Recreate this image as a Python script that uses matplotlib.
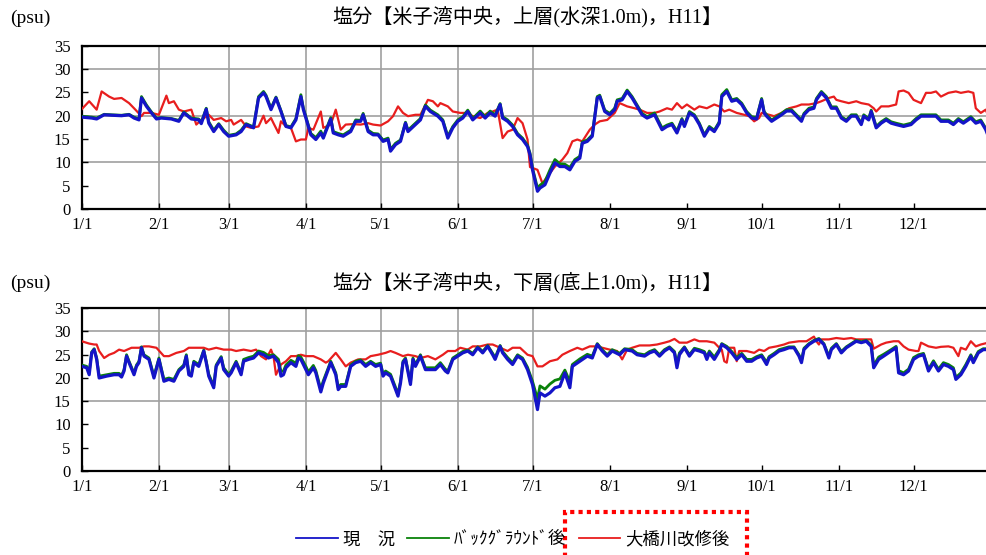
import matplotlib
matplotlib.use('Agg')
import matplotlib.pyplot as plt
from matplotlib.patches import Rectangle
from matplotlib.font_manager import FontProperties

# day-of-year positions of month starts (H11 = 1999, not a leap year)
month_days = [0, 31, 59, 90, 120, 151, 181, 212, 243, 273, 304, 334]
month_labels = ['1/1', '2/1', '3/1', '4/1', '5/1', '6/1',
                '7/1', '8/1', '9/1', '10/1', '11/1', '12/1']
vgrid_days = [31, 59, 90, 120, 151, 181]

titles = ['塩分【米子湾中央，上層(水深1.0m)，H11】',
          '塩分【米子湾中央，下層(底上1.0m)，H11】']
legend_labels = ['現　況', 'ﾊﾞｯｸｸﾞﾗｳﾝﾄﾞ後', '大橋川改修後']

# ---- upper layer ----
top_bg_day = [0, 4, 6, 9, 12, 16, 19, 21, 23, 24, 26, 28, 30, 32, 36, 39, 41, 44, 47, 48,
              50, 51, 53, 55, 57, 59, 62, 64, 66, 69, 71, 73, 74, 76, 78, 80, 82, 84, 86, 88,
              89, 90, 92, 94, 96, 97, 98, 100, 101, 103, 105, 108, 110, 112, 113, 115, 117, 119, 121, 123,
              124, 126, 128, 130, 131, 134, 136, 138, 140, 143, 145, 147, 149, 151, 153, 155, 157, 160, 162, 164,
              166, 168, 169, 171, 173, 175, 177, 179, 180, 181, 183, 184, 186, 188, 190, 192, 194, 196, 198, 200,
              201, 203, 205, 207, 208, 210, 212, 214, 215, 217, 219, 221, 223, 225, 227, 230, 232, 233, 235, 237,
              239, 241, 242, 244, 246, 248, 250, 252, 254, 256, 257, 259, 261, 263, 265, 267, 269, 271, 273, 274,
              275, 277, 279, 281, 283, 285, 287, 289, 290, 292, 294, 295, 297, 299, 301, 303, 305, 307, 309, 311,
              313, 314, 316, 317, 319, 321, 323, 325, 327, 330, 333, 335, 337, 340, 343, 345, 348, 350, 352, 354,
              357, 359, 361, 363, 364]
top_now = [19.7, 19.5, 19.3, 20.2, 20.1, 20.0, 20.2, 19.5, 19.1, 23.8, 22.0, 20.6, 19.3, 19.5, 19.3, 18.8, 20.6, 19.3, 19.1, 18.3,
           21.4, 18.4, 16.6, 18.1, 16.6, 15.6, 15.9, 16.6, 18.1, 17.4, 23.8, 24.9, 24.1, 21.3, 23.8, 20.9, 17.7, 17.4, 19.1, 24.1,
           21.3, 19.5, 15.9, 14.9, 16.3, 15.2, 16.6, 19.3, 16.3, 15.9, 15.6, 16.6, 18.8, 18.8, 20.2, 16.6, 15.9, 15.9, 14.5, 14.9,
           12.4, 13.8, 14.5, 18.4, 16.6, 18.1, 19.1, 22.0, 20.9, 19.9, 18.8, 15.2, 17.4, 18.8, 19.5, 20.9, 19.1, 20.6, 19.5, 20.6,
           19.9, 22.4, 19.5, 18.8, 17.7, 15.9, 14.9, 13.4, 11.6, 8.4, 3.8, 4.5, 5.2, 7.7, 9.9, 9.1, 9.1, 8.4, 10.2, 10.9,
           14.1, 14.5, 15.6, 23.8, 24.1, 20.9, 20.2, 21.3, 23.1, 23.4, 25.2, 23.8, 22.0, 20.2, 19.5, 20.2, 18.1, 17.0, 17.7, 18.1,
           16.3, 19.1, 17.7, 20.6, 19.9, 18.1, 15.6, 17.4, 16.6, 18.4, 24.1, 25.2, 23.1, 23.4, 22.4, 20.6, 19.5, 19.3, 23.4, 20.6,
           19.9, 18.8, 19.5, 20.2, 21.0, 21.0, 19.9, 18.8, 20.2, 21.3, 21.6, 23.4, 24.9, 23.8, 21.6, 21.6, 19.5, 18.8, 19.9, 19.9,
           18.1, 19.9, 19.1, 20.9, 17.4, 18.4, 19.1, 18.4, 18.1, 17.7, 18.1, 19.1, 19.9, 19.9, 19.9, 18.8, 18.8, 18.1, 19.1, 18.4,
           19.5, 18.4, 18.8, 17.0, 15.6]
top_bg = [19.9, 19.7, 19.5, 20.3, 20.2, 20.1, 20.3, 19.7, 19.3, 24.1, 22.3, 20.8, 19.5, 19.6, 19.4, 19.0, 20.8, 19.5, 19.3, 18.6,
          21.6, 18.7, 16.9, 18.3, 16.9, 15.8, 16.1, 16.9, 18.3, 17.6, 24.1, 25.2, 24.4, 21.6, 24.0, 21.1, 17.9, 17.6, 19.4, 24.5,
          21.6, 19.8, 16.2, 15.3, 16.7, 15.5, 16.9, 19.6, 16.6, 16.2, 15.9, 16.9, 19.1, 19.0, 20.5, 16.9, 16.2, 16.1, 14.8, 15.2,
          12.8, 14.1, 14.8, 18.6, 16.9, 18.4, 19.4, 22.3, 21.2, 20.2, 19.1, 15.6, 17.7, 19.1, 19.8, 21.2, 19.4, 21.0, 19.8, 21.0,
          20.2, 22.6, 19.8, 19.1, 18.0, 16.2, 15.2, 13.7, 12.0, 8.8, 4.5, 5.1, 5.9, 8.4, 10.6, 9.7, 9.6, 8.9, 10.6, 11.3,
          14.4, 14.8, 15.9, 24.1, 24.4, 21.2, 20.5, 21.6, 23.4, 23.7, 25.5, 24.1, 22.3, 20.5, 19.8, 20.6, 18.5, 17.4, 18.0, 18.4,
          16.7, 19.4, 18.0, 20.9, 20.2, 18.4, 15.9, 17.7, 16.9, 18.7, 24.5, 25.6, 23.4, 23.7, 22.7, 20.9, 19.8, 19.6, 23.7, 20.9,
          20.2, 19.1, 19.8, 20.5, 21.3, 21.3, 20.2, 19.1, 20.5, 21.6, 21.9, 23.7, 25.2, 24.1, 21.9, 21.9, 19.8, 19.1, 20.2, 20.2,
          18.4, 20.2, 19.4, 21.2, 17.7, 18.7, 19.4, 18.7, 18.4, 18.0, 18.4, 19.4, 20.2, 20.2, 20.2, 19.1, 19.1, 18.4, 19.4, 18.7,
          19.8, 18.7, 19.1, 17.3, 15.9]
top_now_day = top_bg_day
top_new_day = [0, 3, 6, 8, 11, 13, 16, 19, 21, 24, 25, 28, 31, 34, 35, 37, 39, 41, 44, 46,
               48, 51, 53, 56, 58, 60, 61, 64, 66, 68, 71, 73, 74, 76, 77, 79, 80, 82, 84, 86,
               88, 90, 91, 93, 96, 97, 100, 102, 104, 106, 109, 112, 115, 117, 120, 123, 125, 127, 129, 131,
               134, 136, 139, 141, 143, 144, 147, 149, 152, 155, 157, 160, 163, 165, 167, 169, 171, 173, 175, 177,
               179, 180, 183, 185, 187, 190, 193, 195, 197, 199, 201, 204, 206, 208, 211, 214, 216, 219, 222, 224,
               227, 230, 232, 235, 237, 239, 241, 243, 246, 248, 251, 254, 256, 258, 260, 263, 266, 268, 270, 272,
               273, 276, 278, 281, 284, 287, 289, 292, 295, 297, 300, 302, 303, 305, 308, 311, 313, 316, 318, 319,
               321, 324, 327, 328, 330, 332, 334, 337, 339, 341, 343, 345, 348, 351, 353, 356, 358, 359, 361, 363,
               364]
top_new = [21.4, 23.1, 21.3, 25.2, 24.1, 23.6, 23.8, 22.7, 21.6, 19.9, 20.6, 20.6, 20.2, 24.3, 22.7, 23.1, 21.3, 20.9, 21.3, 18.1,
           19.1, 20.2, 19.1, 19.5, 18.8, 19.1, 18.1, 19.1, 17.7, 17.4, 17.7, 20.0, 18.4, 19.5, 18.4, 16.3, 18.8, 17.7, 17.4, 14.5,
           14.9, 14.9, 17.4, 17.0, 20.9, 17.4, 18.1, 21.3, 17.0, 18.1, 18.2, 18.1, 18.4, 18.1, 17.9, 18.8, 19.9, 22.0, 20.6, 19.9,
           20.2, 20.2, 23.4, 23.1, 22.0, 22.7, 22.0, 20.9, 20.6, 20.6, 19.9, 19.5, 20.6, 20.9, 21.3, 15.2, 16.6, 17.0, 19.5, 18.4,
           14.9, 9.0, 8.4, 5.5, 7.0, 9.1, 10.6, 12.0, 14.5, 14.9, 14.5, 17.0, 18.1, 18.8, 19.1, 20.6, 22.7, 22.0, 21.6, 21.3,
           20.6, 20.6, 20.9, 21.6, 21.3, 22.7, 21.6, 22.4, 21.3, 22.0, 21.6, 22.4, 22.0, 20.9, 21.3, 20.6, 20.2, 19.9, 18.8, 19.5,
           20.6, 20.2, 19.9, 20.6, 21.6, 22.0, 22.4, 22.4, 22.7, 23.1, 23.8, 24.1, 23.4, 23.1, 22.7, 23.1, 22.7, 22.4, 21.6, 20.9,
           22.0, 22.0, 22.4, 25.2, 25.4, 24.9, 23.4, 22.7, 24.9, 24.9, 25.2, 24.1, 24.9, 25.2, 24.9, 25.2, 24.9, 21.6, 20.6, 21.3,
           19.9]

# ---- lower layer ----
bot_now_day = [0, 2, 3, 4, 5, 6, 7, 10, 13, 15, 16, 17, 18, 19, 21, 22, 23, 24, 25, 27,
               29, 31, 33, 35, 37, 39, 41, 42, 43, 44, 45, 47, 49, 50, 51, 53, 54, 56, 57, 59,
               60, 62, 64, 65, 67, 69, 71, 73, 75, 77, 79, 80, 81, 82, 84, 86, 87, 88, 90, 91,
               93, 94, 96, 97, 99, 100, 102, 103, 104, 106, 108, 110, 112, 114, 116, 118, 120, 121, 122, 124,
               126, 127, 128, 129, 130, 132, 133, 134, 136, 138, 140, 142, 144, 146, 147, 149, 151, 153, 155, 157,
               159, 161, 163, 165, 166, 168, 169, 171, 173, 175, 177, 179, 181, 183, 184, 186, 188, 190, 192, 194,
               196, 197, 200, 203, 205, 207, 209, 211, 213, 216, 218, 221, 223, 226, 228, 230, 232, 234, 236, 238,
               239, 240, 242, 244, 246, 248, 250, 251, 252, 254, 256, 257, 259, 261, 263, 265, 267, 269, 271, 273,
               275, 276, 278, 280, 282, 284, 286, 288, 289, 290, 292, 294, 296, 298, 300, 301, 303, 305, 307, 309,
               311, 313, 315, 317, 318, 320, 322, 325, 327, 328, 330, 332, 334, 336, 338, 340, 342, 344, 346, 348,
               350, 351, 353, 355, 357, 358, 360, 362, 364]
bot_now = [22.5, 22.2, 20.7, 25.4, 26.1, 24.0, 20.0, 20.4, 20.7, 20.7, 20.2, 21.5, 24.7, 23.3, 20.7, 22.5, 23.3, 26.5, 24.7, 24.0,
           20.0, 24.0, 19.3, 19.7, 19.3, 21.5, 22.5, 24.7, 20.7, 20.4, 23.3, 22.5, 25.8, 23.3, 20.4, 17.9, 22.5, 24.3, 21.8, 20.4,
           21.1, 23.3, 20.7, 23.6, 24.0, 24.3, 25.4, 25.0, 24.3, 24.7, 23.3, 20.4, 20.7, 22.2, 23.3, 22.5, 24.3, 24.0, 21.8, 20.7,
           22.2, 21.1, 17.0, 18.9, 21.8, 23.3, 20.7, 17.5, 18.2, 18.2, 22.5, 23.3, 23.6, 22.5, 23.3, 22.5, 22.9, 20.4, 21.1, 20.4,
           17.5, 16.1, 18.9, 23.3, 24.0, 18.6, 24.0, 22.5, 24.7, 21.8, 21.8, 21.8, 22.9, 21.5, 21.1, 24.0, 24.7, 25.4, 25.8, 25.0,
           26.5, 25.4, 26.8, 25.0, 24.0, 26.8, 25.4, 24.0, 22.9, 24.7, 24.0, 21.8, 18.6, 13.2, 16.8, 16.1, 16.8, 17.9, 18.2, 21.1,
           17.9, 22.5, 23.6, 24.7, 24.3, 27.2, 25.8, 24.7, 25.8, 25.0, 26.1, 25.8, 25.0, 24.7, 25.4, 25.8, 24.7, 25.8, 26.5, 25.4,
           22.2, 25.0, 26.5, 24.7, 26.1, 25.8, 25.4, 24.0, 25.4, 24.0, 25.8, 27.2, 26.5, 25.4, 24.0, 25.0, 23.6, 23.6, 24.3, 24.7,
           22.9, 24.3, 25.0, 25.8, 26.1, 26.5, 26.5, 24.7, 23.3, 26.1, 27.2, 27.9, 28.3, 27.2, 24.3, 26.1, 27.2, 25.4, 26.5, 27.2,
           27.9, 27.6, 27.9, 26.8, 22.2, 24.0, 24.7, 25.8, 26.5, 21.1, 20.7, 21.5, 24.0, 24.7, 25.0, 21.5, 23.3, 21.5, 22.9, 22.5,
           21.8, 19.7, 20.7, 22.5, 24.7, 23.3, 25.4, 26.1, 26.1]
bot_bg_day = bot_now_day
bot_bg = [22.8, 22.5, 21.2, 25.6, 26.3, 24.3, 20.4, 20.7, 21.0, 21.0, 20.5, 21.8, 25.0, 23.6, 21.0, 22.8, 23.6, 26.7, 25.0, 24.3,
          20.4, 24.3, 19.7, 20.0, 19.7, 21.8, 22.8, 25.0, 21.0, 20.8, 23.6, 22.9, 26.0, 23.6, 20.8, 18.3, 22.8, 24.6, 22.2, 20.8,
          21.5, 23.6, 21.1, 24.0, 24.4, 24.7, 25.8, 25.5, 24.8, 25.0, 24.0, 21.4, 21.5, 22.8, 23.8, 23.2, 24.8, 24.5, 22.5, 21.3,
          22.7, 21.6, 17.6, 19.4, 22.2, 23.6, 21.1, 17.9, 18.6, 18.6, 22.8, 23.6, 23.9, 22.9, 23.6, 22.9, 23.2, 20.8, 21.5, 20.8,
          18.0, 16.6, 19.3, 23.6, 24.3, 19.0, 24.3, 22.9, 25.0, 22.2, 22.2, 22.2, 23.3, 21.9, 21.5, 24.3, 25.0, 25.7, 26.0, 25.3,
          26.7, 25.7, 27.0, 25.3, 24.4, 27.0, 25.7, 24.4, 23.3, 25.0, 24.3, 22.3, 19.3, 15.5, 18.3, 17.6, 18.7, 19.5, 19.8, 21.7,
          19.2, 22.9, 24.1, 25.1, 24.7, 27.4, 26.1, 25.0, 26.1, 25.3, 26.3, 26.1, 25.3, 25.0, 25.7, 26.1, 25.0, 26.1, 26.7, 25.7,
          23.0, 25.4, 26.7, 25.0, 26.4, 26.1, 25.7, 24.5, 25.8, 24.5, 26.1, 27.4, 26.8, 25.7, 24.4, 25.3, 24.0, 24.0, 24.6, 25.0,
          23.4, 24.6, 25.3, 26.1, 26.4, 26.7, 26.7, 25.0, 23.7, 26.4, 27.4, 28.1, 28.5, 27.4, 24.7, 26.4, 27.4, 25.7, 26.7, 27.4,
          28.1, 27.8, 28.1, 27.1, 22.7, 24.5, 25.1, 26.1, 26.8, 21.6, 21.1, 21.9, 24.4, 25.0, 25.3, 21.9, 23.7, 21.9, 23.3, 22.9,
          22.2, 20.1, 21.1, 22.9, 25.0, 23.7, 25.7, 26.3, 26.3]
bot_new_day = [0, 3, 5, 6, 7, 9, 11, 13, 15, 17, 20, 23, 25, 27, 30, 33, 35, 38, 41, 43,
               46, 49, 51, 54, 57, 60, 62, 65, 68, 70, 72, 74, 76, 77, 78, 80, 82, 84, 86, 88,
               90, 93, 96, 98, 99, 102, 104, 106, 108, 111, 114, 116, 119, 122, 124, 126, 129, 131, 134, 136,
               139, 142, 145, 147, 150, 152, 155, 157, 160, 163, 165, 168, 171, 173, 176, 179, 181, 183, 185, 188,
               191, 193, 196, 199, 201, 204, 207, 209, 212, 215, 217, 219, 221, 224, 228, 231, 234, 236, 238, 240,
               243, 246, 248, 251, 254, 256, 257, 258, 259, 260, 262, 263, 264, 267, 270, 272, 274, 276, 279, 282,
               284, 288, 291, 294, 295, 296, 297, 300, 303, 306, 309, 311, 314, 317, 318, 321, 323, 326, 328, 330,
               332, 335, 336, 337, 340, 343, 345, 348, 350, 352, 353, 355, 357, 359, 361, 364]
bot_new = [27.9, 27.4, 27.2, 27.2, 25.8, 24.3, 25.0, 25.4, 26.1, 25.8, 26.5, 26.5, 26.8, 26.8, 26.5, 24.7, 24.7, 25.4, 25.8, 26.5,
           26.5, 26.5, 26.1, 26.5, 26.1, 26.1, 25.8, 26.1, 25.8, 26.1, 24.7, 24.0, 26.1, 24.7, 20.7, 22.9, 23.6, 24.7, 24.7, 25.0,
           24.7, 24.7, 24.0, 23.3, 23.6, 25.4, 24.0, 22.5, 23.3, 24.0, 24.0, 24.7, 25.0, 25.4, 25.8, 25.4, 24.7, 25.0, 24.7, 24.3,
           24.7, 24.0, 25.0, 25.8, 25.8, 26.5, 26.1, 26.8, 26.8, 27.2, 27.2, 26.5, 25.8, 26.5, 26.5, 25.0, 24.7, 22.5, 22.5, 23.6,
           24.0, 25.0, 25.8, 26.5, 26.1, 26.8, 26.8, 26.5, 26.1, 25.8, 24.0, 26.1, 26.5, 27.0, 27.0, 27.2, 27.6, 27.9, 28.4, 27.6,
           27.6, 28.3, 27.9, 27.9, 27.6, 26.5, 26.1, 23.6, 23.3, 26.5, 26.5, 23.6, 25.8, 25.8, 25.4, 26.1, 25.8, 26.5, 26.8, 27.2,
           27.6, 27.9, 27.9, 28.9, 27.9, 27.2, 28.3, 28.3, 28.6, 28.4, 28.6, 28.3, 28.3, 28.3, 26.3, 27.2, 27.6, 27.9, 27.9, 26.8,
           26.1, 25.8, 25.8, 27.6, 26.8, 26.5, 26.7, 26.8, 26.5, 24.7, 26.5, 26.1, 27.9, 26.8, 27.2, 27.6]

top_hgrid = [10, 20, 30]
bot_hgrid = [15, 30]

BLUE = '#1414c8'
GREEN = '#0a820a'
RED = '#e81e1e'
GRID = '#a0a0a0'
SERIF = 'Liberation Serif'
JP = ['Liberation Serif', 'Noto Sans CJK JP']

fig = plt.figure(figsize=(9.87, 5.55), dpi=100)


def draw_panel(rect, now_d, now, bg_d, bg, new_d, new, hgrid):
    ax = fig.add_axes(rect)
    for g in hgrid:
        ax.axhline(g, color=GRID, lw=1.2, zorder=1)
    for d in vgrid_days:
        ax.axvline(d, color=GRID, lw=1.2, zorder=1)
    l_new, = ax.plot(new_d, new, color=RED, lw=1.6, zorder=3)
    l_bg, = ax.plot(bg_d, bg, color=GREEN, lw=2.0, zorder=4)
    l_now, = ax.plot(now_d, now, color=BLUE, lw=2.3, zorder=5)
    ax.set_xlim(0, 365)
    ax.set_ylim(0, 35)
    ax.set_xticks(month_days)
    ax.set_xticklabels(month_labels, fontfamily=SERIF, fontsize=12)
    ax.set_yticks(range(0, 36, 5))
    ax.set_yticklabels([str(v) for v in range(0, 36, 5)], fontfamily=SERIF, fontsize=12)
    ax.tick_params(axis='x', direction='in', length=4, width=1, pad=6)
    ax.tick_params(axis='y', direction='in', length=4, width=1, pad=8)
    for side in ['top', 'bottom', 'left']:
        ax.spines[side].set_linewidth(1.6)
    ax.spines['right'].set_visible(False)
    return l_now, l_bg, l_new


draw_panel([0.0828, 0.6234, 0.921, 0.2942],
           top_now_day, top_now, top_bg_day, top_bg, top_new_day, top_new, top_hgrid)
handles = draw_panel([0.0828, 0.1514, 0.921, 0.2932],
                     bot_now_day, bot_now, bot_bg_day, bot_bg, bot_new_day, bot_new, bot_hgrid)

for ty, title in zip([18, 283], titles):
    fig.text(527 / 987, 1 - ty / 555, title, ha='center', va='center',
             family=JP, fontsize=14.5)
    fig.text(10 / 987, 1 - ty / 555, '(psu)', ha='left', va='center',
             family=SERIF, fontsize=14)

leg = fig.legend(handles, legend_labels, loc='center', ncol=3, frameon=False,
                 bbox_to_anchor=(513 / 987, 1 - 540 / 555),
                 handlelength=2.4, handletextpad=0.3, columnspacing=0.7,
                 prop=FontProperties(family=JP, size=12.5))
for ln in leg.get_lines():
    ln.set_linewidth(1.3)

# dotted frame around the 大橋川改修後 entry
fig.patches.append(Rectangle((565 / 987, -0.05), 182 / 987, 0.05 + 1 - 512 / 555,
                             transform=fig.transFigure, fill=False,
                             edgecolor='#ff0000', lw=3.0, linestyle=(0, (1, 1))))

fig.savefig('out.png', dpi=100)
